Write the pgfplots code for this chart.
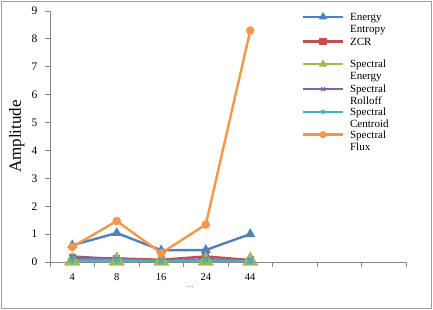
\documentclass[border=0pt]{standalone}
\usepackage{pgfplots}
\pgfplotsset{compat=1.18}
\usepackage{fontspec}
\setmainfont{Liberation Serif}
\definecolor{cBlue}{HTML}{4F81BD}
\definecolor{cRed}{HTML}{C0504D}
\definecolor{cGreen}{HTML}{9BBB59}
\definecolor{cPurple}{HTML}{8064A2}
\definecolor{cCyan}{HTML}{4BACC6}
\definecolor{cOrange}{HTML}{F79646}
\definecolor{axgray}{HTML}{868686}
\newcommand{\lent}[2]{\parbox[t]{60pt}{\fontsize{11}{12.3}\selectfont #1\\#2}}
\begin{document}
\begin{tikzpicture}
\useasboundingbox (-50pt,-48pt) rectangle (383pt,262pt);
\draw[axgray!80, line width=1.5pt] (-48.5pt,-46.5pt) rectangle (381.5pt,260.5pt);
\begin{axis}[
  scale only axis, width=356pt, height=251pt,
  xmin=0.5, xmax=8.5, ymin=0, ymax=9,
  axis x line*=bottom, axis y line*=left,
  axis line style={axgray, line width=0.8pt, -},
  xtick={1,2,3,4,5}, xticklabels={4,8,16,24,44},
  minor xtick={0.5,1.5,...,8.5},
  major x tick style={draw=none},
  minor x tick style={axgray, line width=0.8pt},
  minor tick length=5pt,
  ytick={0,...,9},
  y tick style={axgray, line width=0.8pt},
  major tick length=5pt,
  tick align=outside,
  /pgf/number format/assume math mode=true,
  yticklabel style={font=\fontsize{11.5}{13}\selectfont, xshift=-4pt},
  xticklabel style={font=\fontsize{10.5}{12}\selectfont, yshift=-3pt},
  ylabel={Amplitude},
  ylabel style={font=\fontsize{17}{20}\selectfont, at={(axis description cs:-0.093,0.5)}, anchor=center},
  xlabel={...},
  xlabel style={font=\fontsize{9}{10}\selectfont, text=black!60, at={(axis cs:3.65,0)}, anchor=center, yshift=-25pt},
  legend style={draw=none, fill=none, at={(rel axis cs:0.702,1.0)}, anchor=north west,
    font=\fontsize{11}{12.3}\selectfont, row sep=2.7pt,
    nodes={inner sep=0pt, outer sep=0pt, text depth=, text height=},
    cells={anchor=base west}},
  legend image code/.code={
    \path[draw=none, fill=none, use as bounding box] (0pt,0pt) rectangle (47pt,7pt);
    \draw[#1, line width=2.4pt, mark repeat=2, mark phase=2] plot coordinates {(0pt,0.35em) (20pt,0.35em) (40pt,0.35em)};
  },
  every axis plot/.append style={line width=2.4pt},
  clip=false,
]
\addplot[cBlue, mark=triangle*, mark size=3.5pt, legend image post style={mark size=2.6pt}] coordinates {(1,0.60) (2,1.04) (3,0.42) (4,0.43) (5,1.00)};
\addlegendentry{\lent{Energy}{Entropy}}
\addplot[cRed, mark=square*, mark size=2.5pt] coordinates {(1,0.15) (2,0.13) (3,0.08) (4,0.20) (5,0.07)};
\addlegendentry{\lent{ZCR}{\mbox{}}}
\addplot[cGreen, mark=triangle*, mark size=7pt, legend image post style={mark size=2.6pt}] coordinates {(1,0.04) (2,0.04) (3,0.04) (4,0.04) (5,0.04)};
\addlegendentry{\lent{Spectral}{Energy}}
\addplot[cPurple, mark=x, mark size=3.5pt, mark options={line width=1.2pt}, legend image post style={mark size=2.6pt}] coordinates {(1,0.20) (2,0.10) (3,0.05) (4,0.10) (5,0.05)};
\addlegendentry{\lent{Spectral}{Rolloff}}
\addplot[cCyan, mark=asterisk, mark size=3.5pt, mark options={line width=1.2pt}, legend image post style={mark size=2.6pt}] coordinates {(1,0.07) (2,0.06) (3,0.04) (4,0.06) (5,0.03)};
\addlegendentry{\lent{Spectral}{Centroid}}
\addplot[cOrange, mark=*, mark size=3pt, legend image post style={mark size=2.3pt}] coordinates {(1,0.54) (2,1.47) (3,0.32) (4,1.34) (5,8.30)};
\addlegendentry{\lent{Spectral}{Flux}}
\end{axis}
\end{tikzpicture}
\end{document}
